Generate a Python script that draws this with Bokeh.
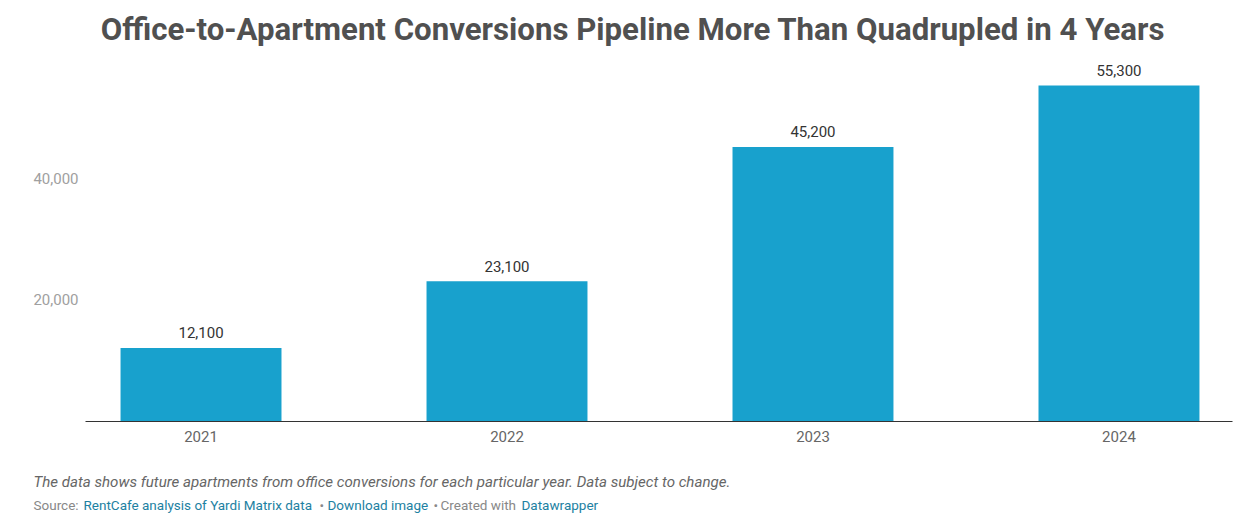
from bokeh.plotting import figure
from bokeh.layouts import column
from bokeh.models import Range1d, FixedTicker, NumeralTickFormatter, ColumnDataSource
from bokeh.core.properties import value
from bokeh.embed import file_html
from bokeh.resources import INLINE

years = [2021, 2022, 2023, 2024]
units = [12100, 23100, 45200, 55300]
unit_labels = ["12,100", "23,100", "45,200", "55,300"]
y_ticks = [20000, 40000]

title_text = "Office-to-Apartment Conversions Pipeline More Than Quadrupled in 4 Years"
note_text = "The data shows future apartments from office conversions for each particular year. Data subject to change."
source_parts = ["Source:", "RentCafe analysis of Yardi Matrix data", "\u2022", "Download image", "\u2022", "Created with", "Datawrapper"]
source_colors = ["#888888", "#1d81a2", "#888888", "#1d81a2", "#888888", "#888888", "#1d81a2"]
source_x = [33, 83, 319, 327, 433, 440, 521]

FONT = "Roboto"
W = 1237

def text_fig(h):
    f = figure(width=W, height=h, x_range=Range1d(0, W), y_range=Range1d(h, 0),
               output_backend="svg", toolbar_location=None, min_border=0)
    f.axis.visible = False
    f.grid.visible = False
    f.outline_line_color = None
    return f

# Title
t = text_fig(63)
t.text(x=[632.5], y=[29], text=[title_text], text_font=value(FONT), text_font_style="bold",
       text_font_size="31.2px", text_color="#505050", text_align="center", text_baseline="middle")

# Chart
src = ColumnDataSource(dict(x=years, top=units, lab=unit_labels))
p = figure(width=W, height=400, x_range=Range1d(2020.6225, 2024.371), y_range=Range1d(0, 58930),
           output_backend="svg", toolbar_location=None,
           min_border_left=85, min_border_right=5, min_border_top=0, min_border_bottom=42)
p.outline_line_color = None
p.grid.visible = False
p.vbar(x="x", top="top", width=0.526, source=src, fill_color="#18a1cd", line_color=None)
p.text(x="x", y="top", text="lab", source=src, text_font=value(FONT), text_font_size="15px",
       text_color="#333333", text_align="center", text_baseline="middle", y_offset=-15)

p.xaxis.ticker = FixedTicker(ticks=years)
p.xaxis.major_tick_line_color = None
p.xaxis.minor_tick_line_color = None
p.xaxis.major_tick_out = 0
p.xaxis.major_tick_in = 0
p.xaxis.axis_line_color = "#333333"
p.xaxis.major_label_text_font = FONT
p.xaxis.major_label_text_font_size = "15px"
p.xaxis.major_label_text_color = "#666666"
p.xaxis.major_label_standoff = 9

p.yaxis.ticker = FixedTicker(ticks=y_ticks)
p.yaxis.formatter = NumeralTickFormatter(format="0,0")
p.yaxis.major_tick_line_color = None
p.yaxis.minor_tick_line_color = None
p.yaxis.major_tick_out = 0
p.yaxis.major_tick_in = 0
p.yaxis.axis_line_color = None
p.yaxis.major_label_text_font = FONT
p.yaxis.major_label_text_font_size = "15px"
p.yaxis.major_label_text_color = "#a0a0a0"
p.yaxis.major_label_standoff = 7

# Footer
f = text_fig(57)
f.text(x=[33], y=[18], text=[note_text], text_font=value(FONT), text_font_style="italic",
       text_font_size="15.1px", text_color="#666666", text_align="left", text_baseline="middle")
f.text(x=source_x, y=[41] * len(source_x), text=source_parts, text_color=source_colors,
       text_font=value(FONT), text_font_size="13.5px", text_align="left", text_baseline="middle")

layout = column(column(t), column(p), column(f), spacing=0)
open("out.html", "w").write(file_html(layout, INLINE))
